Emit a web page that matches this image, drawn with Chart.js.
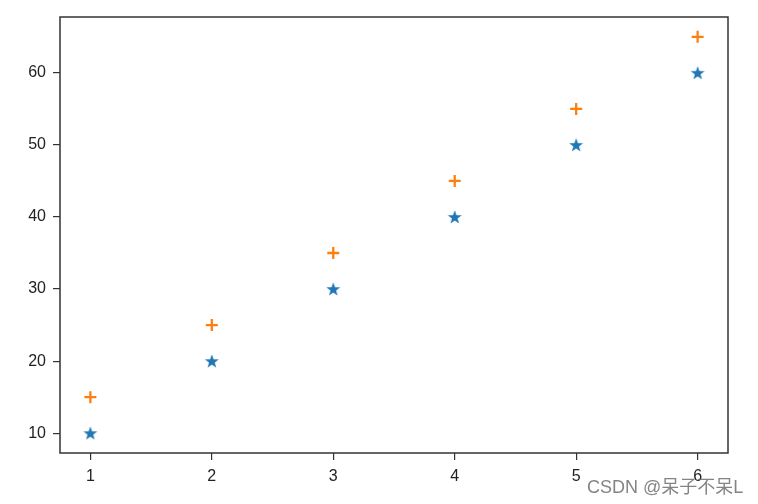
<!DOCTYPE html>
<html>
<head>
<meta charset="utf-8">
<script src="https://cdn.jsdelivr.net/npm/chart.js@4/dist/chart.umd.min.js"></script>
<style>
  body { margin: 0; background: #fff; }
  #wrap { position: relative; width: 758px; height: 504px; }
  #mark {
    position: absolute; left: 587px; top: 472px;
    font-family: "Liberation Sans", "Noto Sans CJK SC", sans-serif;
    font-size: 18px; color: rgba(110, 110, 110, 0.85); white-space: nowrap;
  }
</style>
</head>
<body>
<div id="wrap">
  <canvas id="chart" width="758" height="504"></canvas>
  <div id="mark">CSDN @呆子不呆L</div>
</div>
<script>
const xValues = [1, 2, 3, 4, 5, 6];
const starValues = [10, 20, 30, 40, 50, 60];
const plusValues = [15, 25, 35, 45, 55, 65];
const xTicks = [1, 2, 3, 4, 5, 6];
const yTicks = [10, 20, 30, 40, 50, 60];

const blue = '#1f77b4';
const orange = '#ff7f0e';

// filled five point star like matplotlib '*'
function makeStar(color) {
    const c = document.createElement('canvas');
    c.width = 16; c.height = 16;
    const g = c.getContext('2d');
    g.fillStyle = color;
    g.beginPath();
    for (let i = 0; i < 10; i++) {
        const r = i % 2 === 0 ? 7.3 : 3;
        const a = -Math.PI / 2 + i * Math.PI / 5;
        const px = 8 + r * Math.cos(a), py = 8.6 + r * Math.sin(a);
        if (i === 0) g.moveTo(px, py); else g.lineTo(px, py);
    }
    g.closePath();
    g.fill();
    return c;
}

const frame = {
    id: 'frame',
    afterDraw(chart) {
        const a = chart.chartArea, g = chart.ctx;
        g.save();
        g.strokeStyle = '#333';
        g.lineWidth = 1.5;
        g.strokeRect(a.left, a.top, a.right - a.left, a.bottom - a.top);
        g.restore();
    }
};

const tickFont = { family: 'Liberation Sans', size: 16 };

new Chart(document.getElementById('chart').getContext('2d'), {
    type: 'scatter',
    data: {
        datasets: [
            {
                data: xValues.map((x, i) => ({ x: x, y: starValues[i] })),
                pointStyle: makeStar(blue),
                pointRadius: 7,
                backgroundColor: blue,
                borderColor: blue
            },
            {
                data: xValues.map((x, i) => ({ x: x, y: plusValues[i] })),
                pointStyle: 'cross',
                pointRadius: 6,
                borderWidth: 2.3,
                backgroundColor: orange,
                borderColor: orange
            }
        ]
    },
    options: {
        responsive: false,
        animation: false,
        layout: { padding: { left: 0, top: 17, right: 30, bottom: 0 } },
        plugins: { legend: { display: false }, tooltip: { enabled: false } },
        scales: {
            x: {
                type: 'linear',
                min: 0.75,
                max: 6.25,
                afterBuildTicks: axis => { axis.ticks = xTicks.map(v => ({ value: v })); },
                afterFit: axis => { axis.height = 51; },
                grid: { drawOnChartArea: false, drawTicks: true, tickLength: 7, color: '#333', lineWidth: 1.2 },
                border: { display: false },
                ticks: { color: '#222', font: tickFont, padding: 7, maxRotation: 0 }
            },
            y: {
                min: 7.25,
                max: 67.75,
                afterBuildTicks: axis => { axis.ticks = yTicks.map(v => ({ value: v })); },
                afterFit: axis => { axis.width = 60; },
                grid: { drawOnChartArea: false, drawTicks: true, tickLength: 7, color: '#333', lineWidth: 1.2 },
                border: { display: false },
                ticks: { color: '#222', font: tickFont, padding: 7 }
            }
        }
    },
    plugins: [frame]
});
</script>
</body>
</html>
